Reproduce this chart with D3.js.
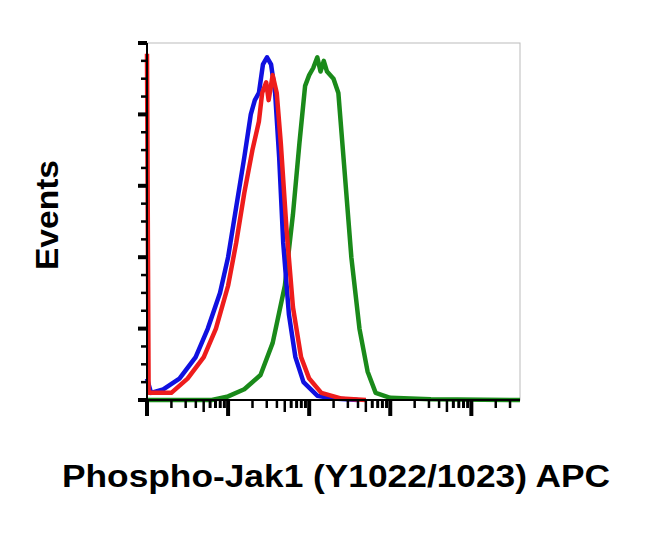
<!DOCTYPE html><html><head><meta charset="utf-8"><script src="https://cdn.jsdelivr.net/npm/d3@7"></script>
<style>body{margin:0;background:#fff}</style></head><body><svg width="650" height="535"></svg><script>
const blue=[[0,0.3],[0.05,0.1],[0.2,0.15],[0.4,0.3],[0.6,0.6],[0.75,1.0],[0.9,1.5],[1.0,2.0],[1.1,2.7],[1.2,3.4],[1.28,4.0],[1.33,4.2],[1.38,4.3],[1.43,4.7],[1.48,4.8],[1.53,4.7],[1.58,4.3],[1.63,3.4],[1.68,2.2],[1.75,1.2],[1.83,0.6],[1.93,0.25],[2.1,0.06],[2.3,0.02],[2.6,0]];
const red=[[0,4.85],[0.02,0.1],[0.3,0.1],[0.5,0.3],[0.7,0.6],[0.85,1.0],[1.0,1.6],[1.1,2.2],[1.2,2.9],[1.3,3.5],[1.38,3.9],[1.42,4.3],[1.47,4.45],[1.5,4.2],[1.55,4.55],[1.6,4.3],[1.65,3.6],[1.72,2.4],[1.8,1.3],[1.9,0.6],[2.0,0.3],[2.15,0.1],[2.4,0.02],[2.7,0]];
const green=[[0,0],[0.8,0],[1.0,0.05],[1.2,0.15],[1.4,0.35],[1.55,0.8],[1.7,1.6],[1.8,2.6],[1.88,3.6],[1.95,4.4],[2.0,4.55],[2.05,4.65],[2.1,4.8],[2.14,4.6],[2.18,4.75],[2.22,4.6],[2.3,4.5],[2.36,4.3],[2.43,3.3],[2.52,2.0],[2.62,1.0],[2.72,0.4],[2.82,0.1],[3.0,0.03],[3.5,0.01],[4.6,0]];
const xLabel="Phospho-Jak1 (Y1022/1023) APC", yLabel="Events";
const svg=d3.select("svg");
const x=d3.scaleLinear().domain([0,4.6]).range([147,520]);
const y=d3.scaleLinear().domain([0,5]).range([400,43]);
svg.append("rect").attr("x",147).attr("y",43).attr("width",373).attr("height",357).attr("fill","none").attr("stroke","#bbb").attr("stroke-width",1);
const line=d3.line().x(d=>x(d[0])).y(d=>y(d[1]));
[[green,"#1a8a1a"],[blue,"#1010e0"],[red,"#ee1c1c"]].forEach(([d,c])=>svg.append("path").attr("d",line(d)).attr("fill","none").attr("stroke",c).attr("stroke-width",4.5).attr("stroke-linejoin","round"));
const g=svg.append("g");
for(let dec=0;dec<=4;dec++){
  g.append("line").attr("x1",x(dec)).attr("x2",x(dec)).attr("y1",400).attr("y2",416).attr("stroke","#000").attr("stroke-width",4);
  for(let m=2;m<=9;m++){const v=dec+Math.log10(m); if(v>4.6)break;
    g.append("line").attr("x1",x(v)).attr("x2",x(v)).attr("y1",400).attr("y2",m==5?412:408).attr("stroke","#000").attr("stroke-width",m>=6?3:2.5);}
}
for(let i=0;i<=20;i++){const v=i/4,maj=i%4==0;
  g.append("line").attr("x1",maj?138:141).attr("x2",147).attr("y1",y(v)).attr("y2",y(v)).attr("stroke","#000").attr("stroke-width",maj?4:2.5);}
g.append("line").attr("x1",147).attr("x2",520).attr("y1",400).attr("y2",400).attr("stroke","#000").attr("stroke-width",2);
g.append("line").attr("x1",147).attr("x2",147).attr("y1",43).attr("y2",400).attr("stroke","#000").attr("stroke-width",2);
svg.append("text").attr("x",62).attr("y",487).attr("textLength",548).attr("lengthAdjust","spacingAndGlyphs").attr("font-family","Liberation Sans, Arial").attr("font-weight","bold").attr("font-size",31).text(xLabel);
svg.append("text").attr("transform","translate(58,270) rotate(-90)").attr("textLength",110).attr("lengthAdjust","spacingAndGlyphs").attr("font-family","Liberation Sans, Arial").attr("font-weight","bold").attr("font-size",31).text(yLabel);
</script></body></html>
